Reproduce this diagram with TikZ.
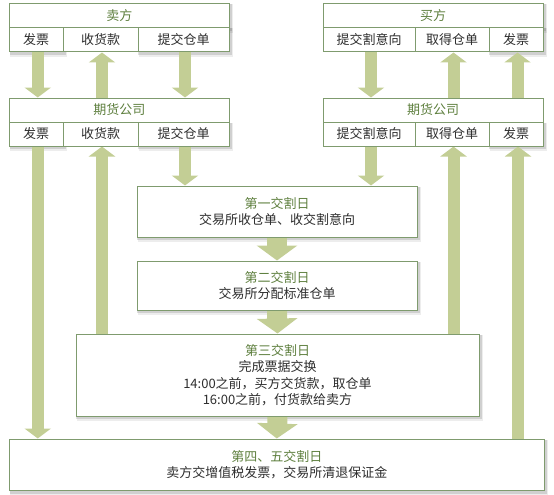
\documentclass[tikz,border=0pt]{standalone}
\usepackage{fontspec}
\setmainfont{Noto Sans CJK SC}
\usetikzlibrary{arrows.meta}
\definecolor{bord}{HTML}{7F9B6E}
\definecolor{ttl}{HTML}{5E7F3E}
\definecolor{arr}{HTML}{C3CE95}
\definecolor{txt}{HTML}{2E2E2E}
\pgfdeclarelayer{bg}
\pgfsetlayers{bg,main}
\newcommand{\boxshadow}[1]{%
  \fill[black,opacity=0.07] ([xshift=1pt,yshift=-4.5pt]#1.south west) rectangle ([xshift=3.5pt,yshift=-1pt]#1.north east);
  \fill[black,opacity=0.12] ([xshift=0.5pt,yshift=-2.5pt]#1.south west) rectangle ([xshift=2pt,yshift=-1pt]#1.north east);}
\begin{document}
\begin{tikzpicture}[x=1pt,y=-1pt,
  cell/.style={draw=bord, line width=1pt, fill=white, inner sep=0pt,
    font=\fontsize{13pt}{16.5pt}\selectfont, text=txt, anchor=center, align=center},
  ttlcell/.style={cell, text=ttl},
  sarrow/.style={draw=arr, line width=12pt, -{Triangle[width=26pt,length=10pt]}},
  barrow/.style={draw=arr, line width=20pt, -{Triangle[width=40pt,length=15pt]}}]
\useasboundingbox (0,0) rectangle (554,495);
% ---- seller
\node[ttlcell, minimum width=219.5pt, minimum height=24pt] (st) at (119.25,16) {卖方};
\node[cell, minimum width=53.5pt, minimum height=24pt] (s1) at (36.25,40) {发票};
\node[cell, minimum width=75pt, minimum height=24pt] (s2) at (100.5,40) {收货款};
\node[cell, minimum width=91pt, minimum height=24pt] (s3) at (183.5,40) {提交仓单};
% ---- futures company left
\node[ttlcell, minimum width=219.5pt, minimum height=24pt] (ft) at (119.25,110) {期货公司};
\node[cell, minimum width=53.5pt, minimum height=24pt] (f1) at (36.25,134) {发票};
\node[cell, minimum width=75pt, minimum height=24pt] (f2) at (100.5,134) {收货款};
\node[cell, minimum width=91pt, minimum height=24pt] (f3) at (183.5,134) {提交仓单};
% ---- buyer
\node[ttlcell, minimum width=220pt, minimum height=24pt] (bt) at (433,16) {买方};
\node[cell, minimum width=92pt, minimum height=24pt] (b1) at (369,40) {提交割意向};
\node[cell, minimum width=74pt, minimum height=24pt] (b2) at (452,40) {取得仓单};
\node[cell, minimum width=54pt, minimum height=24pt] (b3) at (516,40) {发票};
% ---- futures company right
\node[ttlcell, minimum width=220pt, minimum height=24pt] (gt) at (433,110) {期货公司};
\node[cell, minimum width=92pt, minimum height=24pt] (g1) at (369,134) {提交割意向};
\node[cell, minimum width=74pt, minimum height=24pt] (g2) at (452,134) {取得仓单};
\node[cell, minimum width=54pt, minimum height=24pt] (g3) at (516,134) {发票};
% ---- delivery days
\node[cell, minimum width=280pt, minimum height=51pt] (d1) at (277,211.5)
  {\textcolor{ttl}{第一交割日}\\交易所收仓单、收交割意向};
\node[cell, minimum width=280pt, minimum height=49pt] (d2) at (277,285.5)
  {\textcolor{ttl}{第二交割日}\\交易所分配标准仓单};
\node[cell, minimum width=403pt, minimum height=82pt] (d3) at (277.5,375)
  {\textcolor{ttl}{第三交割日}\\完成票据交换\\14:00之前，买方交货款，取仓单\\16:00之前，付货款给卖方};
\node[cell, minimum width=534.5pt, minimum height=51.5pt] (d4) at (276.75,464.75)
  {\textcolor{ttl}{第四、五交割日}\\卖方交增值税发票，交易所清退保证金};
\begin{pgfonlayer}{bg}
  \boxshadow{st}\boxshadow{s1}\boxshadow{s3}
  \boxshadow{bt}\boxshadow{b3}
  \boxshadow{f1}\boxshadow{f3}\boxshadow{g3}
  \boxshadow{d1}\boxshadow{d2}\boxshadow{d3}\boxshadow{d4}
  % top level arrows
  \draw[sarrow] ([xshift=1.5pt]s1.south) -- ([xshift=1.5pt]s1.south |- ft.north);
  \draw[sarrow] ([xshift=1.5pt]s2.south |- ft.north) -- ([xshift=1.5pt]s2.south);
  \draw[sarrow] ([xshift=1.5pt]s3.south) -- ([xshift=1.5pt]s3.south |- ft.north);
  \draw[sarrow] ([xshift=2pt]b1.south) -- ([xshift=2pt]b1.south |- gt.north);
  \draw[sarrow] ([xshift=1.5pt]b2.south |- gt.north) -- ([xshift=1.5pt]b2.south);
  \draw[sarrow] ([xshift=1.5pt]b3.south |- gt.north) -- ([xshift=1.5pt]b3.south);
  % second level arrows
  \draw[sarrow] ([xshift=1.5pt]f1.south) -- ([xshift=1.5pt]f1.south |- d4.north);
  \draw[sarrow] ([xshift=1.5pt]f2.south |- d3.north) -- ([xshift=1.5pt]f2.south);
  \draw[sarrow] ([xshift=1.5pt]f3.south) -- ([xshift=1.5pt]f3.south |- d1.north);
  \draw[sarrow] ([xshift=2pt]g1.south) -- ([xshift=2pt]g1.south |- d1.north);
  \draw[sarrow] ([xshift=1.5pt]g2.south |- d3.north) -- ([xshift=1.5pt]g2.south);
  \draw[sarrow] ([xshift=2pt]g3.south |- d4.north) -- ([xshift=2pt]g3.south);
  % central arrows
  \draw[barrow] (d1.south) -- (d2.north);
  \draw[barrow] (d2.south) -- (d3.north);
  \draw[barrow] (d3.south) -- (d4.north);
\end{pgfonlayer}
\end{tikzpicture}
\end{document}
